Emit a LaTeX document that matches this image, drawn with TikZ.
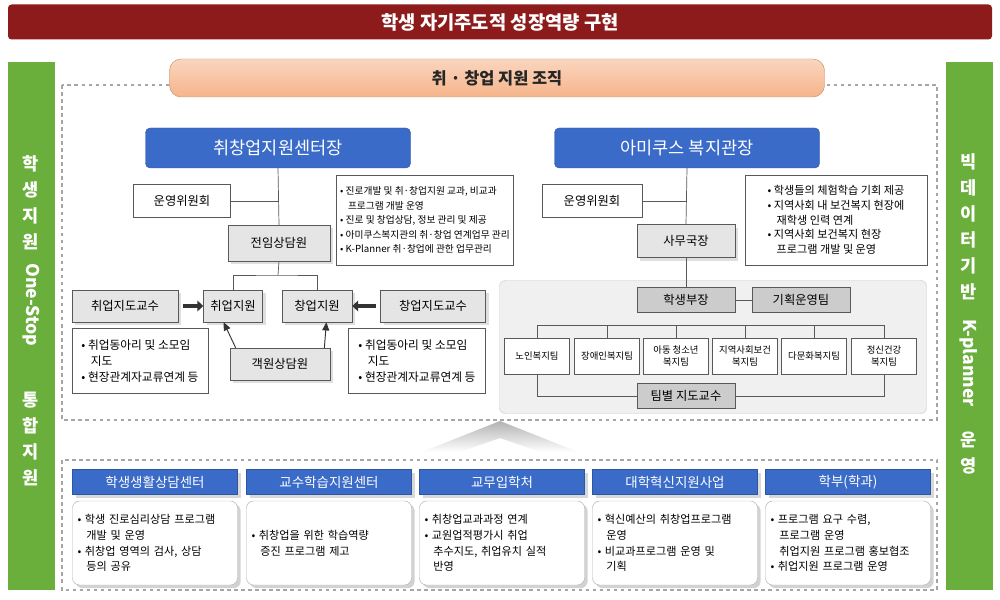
\documentclass[tikz,border=0pt]{standalone}
\usepackage{fontspec}
\setmainfont{Noto Sans CJK KR}
\usetikzlibrary{shadows,arrows.meta}
\definecolor{titlered}{HTML}{8E1B1B}
\definecolor{sidegreen}{HTML}{6AAE3C}
\definecolor{headblue}{HTML}{3A6BC9}
\definecolor{pillorange}{HTML}{F6B48A}
\tikzset{
  blueHead/.style={draw=headblue!80!black, fill=headblue, rounded corners=4pt, text=white, font=\fontsize{15}{17}\selectfont, inner sep=0pt},
  greyBox/.style={draw=gray!70!black, fill=gray!20, font=\fontsize{10.5}{12}\selectfont, inner sep=0pt, drop shadow={opacity=.25}},
  darkBox/.style={draw=gray!70!black, fill=gray!40, font=\fontsize{10.5}{12}\selectfont, inner sep=0pt},
  whiteBox/.style={draw=gray!70!black, fill=white, font=\fontsize{10.5}{12}\selectfont, inner sep=0pt},
  teamBox/.style={draw=gray!70!black, fill=white, font=\fontsize{8}{9.5}\selectfont, inner sep=0pt, align=center},
  bulletBox/.style={draw=gray!70!black, fill=white, font=\fontsize{9}{13}\selectfont, align=left, inner sep=0pt},
  colHead/.style={draw=headblue!80!black, fill=headblue, text=white, font=\fontsize{11.5}{13}\selectfont, inner sep=0pt, drop shadow={opacity=.3}},
  colBody/.style={draw=gray!60, fill=white, rounded corners=6pt, font=\fontsize{9.5}{13.5}\selectfont, align=left, inner sep=0pt, drop shadow={opacity=.35}},
  link/.style={draw=gray!70!black, line width=.6pt},
  fatArrow/.style={-{Triangle[length=5pt,width=9pt]}, line width=4pt, black!80},
  thinArrow/.style={-{Triangle[length=7pt,width=6pt]}, line width=.8pt, black!80}
}
\newcommand{\ind}{\hspace*{0.8em}}
\begin{document}
\begin{tikzpicture}[x=0.3mm, y=-0.3mm]
  \useasboundingbox (0,0) rectangle (1000,600);
  \fill[white] (0,0) rectangle (1000,600);

  % title and side bars
  \node[fill=titlered, rounded corners=3pt, minimum width=984*0.3mm, minimum height=35*0.3mm, text=white, font=\fontsize{16}{18}\selectfont\bfseries] (title) at (500,22) {학생 자기주도적 성장역량 구현};
  \node[fill=sidegreen, minimum width=47*0.3mm, minimum height=528*0.3mm] (lbar) at (31,326) {};
  \node[fill=sidegreen, minimum width=47*0.3mm, minimum height=528*0.3mm] (rbar) at (969,326) {};
  \begin{scope}[every node/.style={text=white, font=\fontsize{15}{17}\selectfont\bfseries}]
    \foreach \c [count=\i] in {학,생,지,원} \node (lt\i) at (31,138+26*\i) {\c};
    \node[rotate=-90] (lone) at (31,305) {One-Stop};
    \foreach \c [count=\i] in {통,합,지,원} \node (lb\i) at (31,374+26*\i) {\c};
    \foreach \c [count=\i] in {빅,데,이,터,기,반} \node (rt\i) at (969,136+26*\i) {\c};
    \node[rotate=-90] (rk) at (969,363) {K-planner};
    \node (ru1) at (969,440) {운};
    \node (ru2) at (969,466) {영};
  \end{scope}

  % dashed frames
  \draw[gray!70, dashed, line width=1pt] (62,85) rectangle (937,420);
  \draw[gray!70, dashed, line width=1pt] (62,460) rectangle (937,590);
  \node[top color=pillorange!55, bottom color=pillorange, draw=pillorange!80!black, rounded corners=10pt, minimum width=655*0.3mm, minimum height=38*0.3mm, font=\fontsize{14}{16}\selectfont\bfseries, text=black!85] (pill) at (497,78) {취 · 창업 지원 조직};

  % left organisation
  \node[blueHead, minimum width=265*0.3mm, minimum height=40*0.3mm] (ctr) at (278,148) {취창업지원센터장};
  \node[whiteBox, minimum width=97*0.3mm, minimum height=33*0.3mm] (lcom) at (182,201) {운영위원회};
  \node[greyBox, minimum width=102*0.3mm, minimum height=36*0.3mm] (lcns) at (279,243) {전임상담원};
  \node[bulletBox, font=\fontsize{8.3}{12.5}\selectfont, minimum width=177*0.3mm, minimum height=90*0.3mm] (lnote) at (425,220) {• 진로개발 및 취·창업지원 교과, 비교과\\\ind 프로그램 개발 운영\\• 진로 및 창업상담, 정보 관리 및 제공\\• 아미쿠스복지관의 취·창업 연계업무 관리\\• K-Planner 취·창업에 관한 업무관리};
  \node[greyBox, minimum width=59*0.3mm, minimum height=32*0.3mm] (job) at (233,306) {취업지원};
  \node[greyBox, minimum width=70*0.3mm, minimum height=32*0.3mm] (startup) at (317,306) {창업지원};
  \node[greyBox, minimum width=106*0.3mm, minimum height=32*0.3mm] (jprof) at (125,306) {취업지도교수};
  \node[greyBox, minimum width=105*0.3mm, minimum height=32*0.3mm] (sprof) at (433,306) {창업지도교수};
  \node[bulletBox, font=\fontsize{10}{13.5}\selectfont, minimum width=136*0.3mm, minimum height=65*0.3mm] (jnote) at (140,361) {• 취업동아리 및 소모임\\\ind 지도\\• 현장관계자교류연계 등};
  \node[bulletBox, font=\fontsize{10}{13.5}\selectfont, minimum width=137*0.3mm, minimum height=65*0.3mm] (snote) at (417,361) {• 취업동아리 및 소모임\\\ind 지도\\• 현장관계자교류연계 등};
  \node[greyBox, minimum width=100*0.3mm, minimum height=32*0.3mm] (guest) at (280,364) {객원상담원};

  \draw[link] (ctr.south) -- (lcns.north);
  \draw[link] (lcns.south) -- (278,275) coordinate (lsplit);
  \draw[link] (lcom.east) -- (lcom.east -| ctr.south);
  \draw[link] (job.north) |- (lsplit) -| (startup.north);
  \draw[fatArrow] (jprof.east) ++(4pt,0) -- (job.west);
  \draw[fatArrow] (sprof.west) ++(-4pt,0) -- (startup.east);
  \draw[thinArrow] (guest.north west) ++(5pt,0) -- ([xshift=-8pt]job.south);
  \draw[thinArrow] (guest.north east) ++(-5pt,0) -- ([xshift=8pt]startup.south);

  % right organisation
  \node[fill=gray!12, draw=gray!40, rounded corners=5pt, minimum width=427*0.3mm, minimum height=133*0.3mm] (welfare) at (713,347) {};
  \node[blueHead, minimum width=265*0.3mm, minimum height=40*0.3mm] (amc) at (687,148) {아미쿠스 복지관장};
  \node[whiteBox, minimum width=100*0.3mm, minimum height=33*0.3mm] (rcom) at (592,201) {운영위원회};
  \node[greyBox, minimum width=98*0.3mm, minimum height=33*0.3mm] (sec) at (686,241) {사무국장};
  \node[bulletBox, font=\fontsize{9.5}{12.5}\selectfont, minimum width=182*0.3mm, minimum height=90*0.3mm] (rnote) at (836,220) {• 학생들의 체험학습 기회 제공\\• 지역사회 내 보건복지 현장에\\\ind 재학생 인력 연계\\• 지역사회 보건복지 현장\\\ind 프로그램 개발 및 운영};
  \node[darkBox, minimum width=98*0.3mm, minimum height=25*0.3mm] (dean) at (686,300) {학생부장};
  \node[darkBox, minimum width=98*0.3mm, minimum height=25*0.3mm] (plan) at (801,300) {기획운영팀};
  \node[darkBox, minimum width=98*0.3mm, minimum height=25*0.3mm] (tprof) at (686,396) {팀별 지도교수};
  \foreach \n/\x/\t in {t1/537/노인복지팀, t2/607/장애인복지팀, t3/676/아동 청소년\\복지팀, t4/745/지역사회보건\\복지팀, t5/814/다문화복지팀, t6/884/정신건강\\복지팀}
    \node[teamBox, minimum width=65*0.3mm, minimum height=36*0.3mm] (\n) at (\x,356) {\t};

  \draw[link] (amc.south) -- (sec.north);
  \draw[link] (rcom.east) -- (rcom.east -| amc.south);
  \draw[link] (sec.south) -- (dean.north);
  \draw[link] (dean.east) -- (plan.west);
  \draw[link] (t1.north) |- (t6.north |- 0,325) -- (t6.north);
  \foreach \n in {t2,t3,t4,t5} \draw[link] (\n.north) -- (\n.north |- 0,325);
  \draw[link] (t1.south) |- (tprof.west);
  \draw[link] (t6.south) |- (tprof.east);

  % big up arrow
  \shade[top color=gray!60, bottom color=white] (500,421) -- (578,452) -- (540,452) -- (500,438) -- (460,452) -- (422,452) -- cycle;

  % bottom columns
  \foreach \n/\x/\h/\b in {
    c1/155/학생생활상담센터/{• 학생 진로심리상담 프로그램\\\ind 개발 및 운영\\• 취창업 영역의 검사, 상담\\\ind 등의 공유},
    c2/329/교수학습지원센터/{• 취창업을 위한 학습역량\\\ind 증진 프로그램 제고},
    c3/502/교무입학처/{• 취창업교과과정 연계\\• 교원업적평가시 취업\\\ind 추수지도, 취업유치 실적\\\ind 반영},
    c4/675/대학혁신지원사업/{• 혁신예산의 취창업프로그램\\\ind 운영\\• 비교과프로그램 운영 및\\\ind 기획},
    c5/848/학부(학과)/{• 프로그램 요구 수렴,\\\ind 프로그램 운영\\\ind 취업지원 프로그램 홍보협조\\• 취업지원 프로그램 운영}} {
    \node[colHead, minimum width=165*0.3mm, minimum height=25*0.3mm] (\n h) at (\x,482) {\h};
    \node[colBody, minimum width=165*0.3mm, minimum height=84*0.3mm, text width=155*0.3mm] (\n b) at (\x,543) {\b};
  }
\end{tikzpicture}
\end{document}
